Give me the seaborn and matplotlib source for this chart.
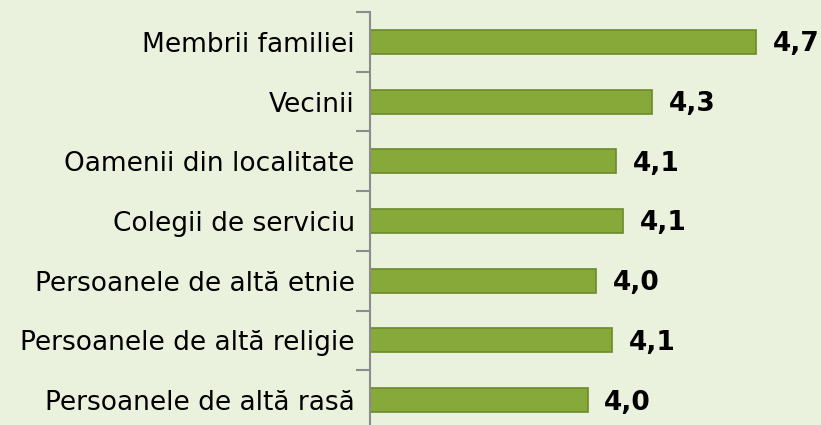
import matplotlib
matplotlib.use("Agg")
import matplotlib.pyplot as plt
import seaborn as sns
import pandas as pd
import numpy as np

categories = ["Membrii familiei", "Vecinii", "Oamenii din localitate", "Colegii de serviciu",
              "Persoanele de altă etnie", "Persoanele de altă religie", "Persoanele de altă rasă"]
values = [4.74, 4.27, 4.11, 4.14, 4.02, 4.09, 3.98]
labels = ["4,7", "4,3", "4,1", "4,1", "4,0", "4,1", "4,0"]

df = pd.DataFrame({"cat": categories, "val": values})

sns.set_theme(style="white")
plt.rcParams['font.family'] = ['DejaVu Sans']

bg = "#EAF1DC"
fig = plt.figure(figsize=(8.21, 4.25), dpi=100, facecolor=bg)
ax = fig.add_axes([370/821, -5/425, (814-370)/821, (425-12+5)/425])
ax.set_facecolor(bg)

sns.barplot(data=df, y="cat", x="val", orient="h", ax=ax, color="#86A93A",
            width=0.4, edgecolor="#6A8A2A", linewidth=1.2, saturation=1)
ax.set_xlim(3, 5)
ax.set_ylim(6.5, -0.5)

for i, (v, lab) in enumerate(zip(values, labels)):
    ax.text(v + 0.075, i + 0.04, lab, va="center", ha="left", fontsize=19,
            fontweight="bold", color="black")

for s in ["top", "right", "bottom"]:
    ax.spines[s].set_visible(False)
ax.spines["left"].set_color("#8C8C8C")
ax.spines["left"].set_linewidth(1.5)
ax.set_xticks([])
ax.set_xlabel("")
ax.set_ylabel("")
ax.set_yticks(range(len(categories)))
ax.set_yticklabels(categories, fontsize=19, color="black")
ax.tick_params(axis="y", which="major", length=0, pad=11, left=True)
ax.set_yticks(np.arange(-0.5, 7.0, 1.0), minor=True)
ax.tick_params(axis="y", which="minor", length=10, width=1.5, color="#8C8C8C",
               direction="out", left=True)

fig.savefig("out.png", dpi=100, facecolor=bg)
